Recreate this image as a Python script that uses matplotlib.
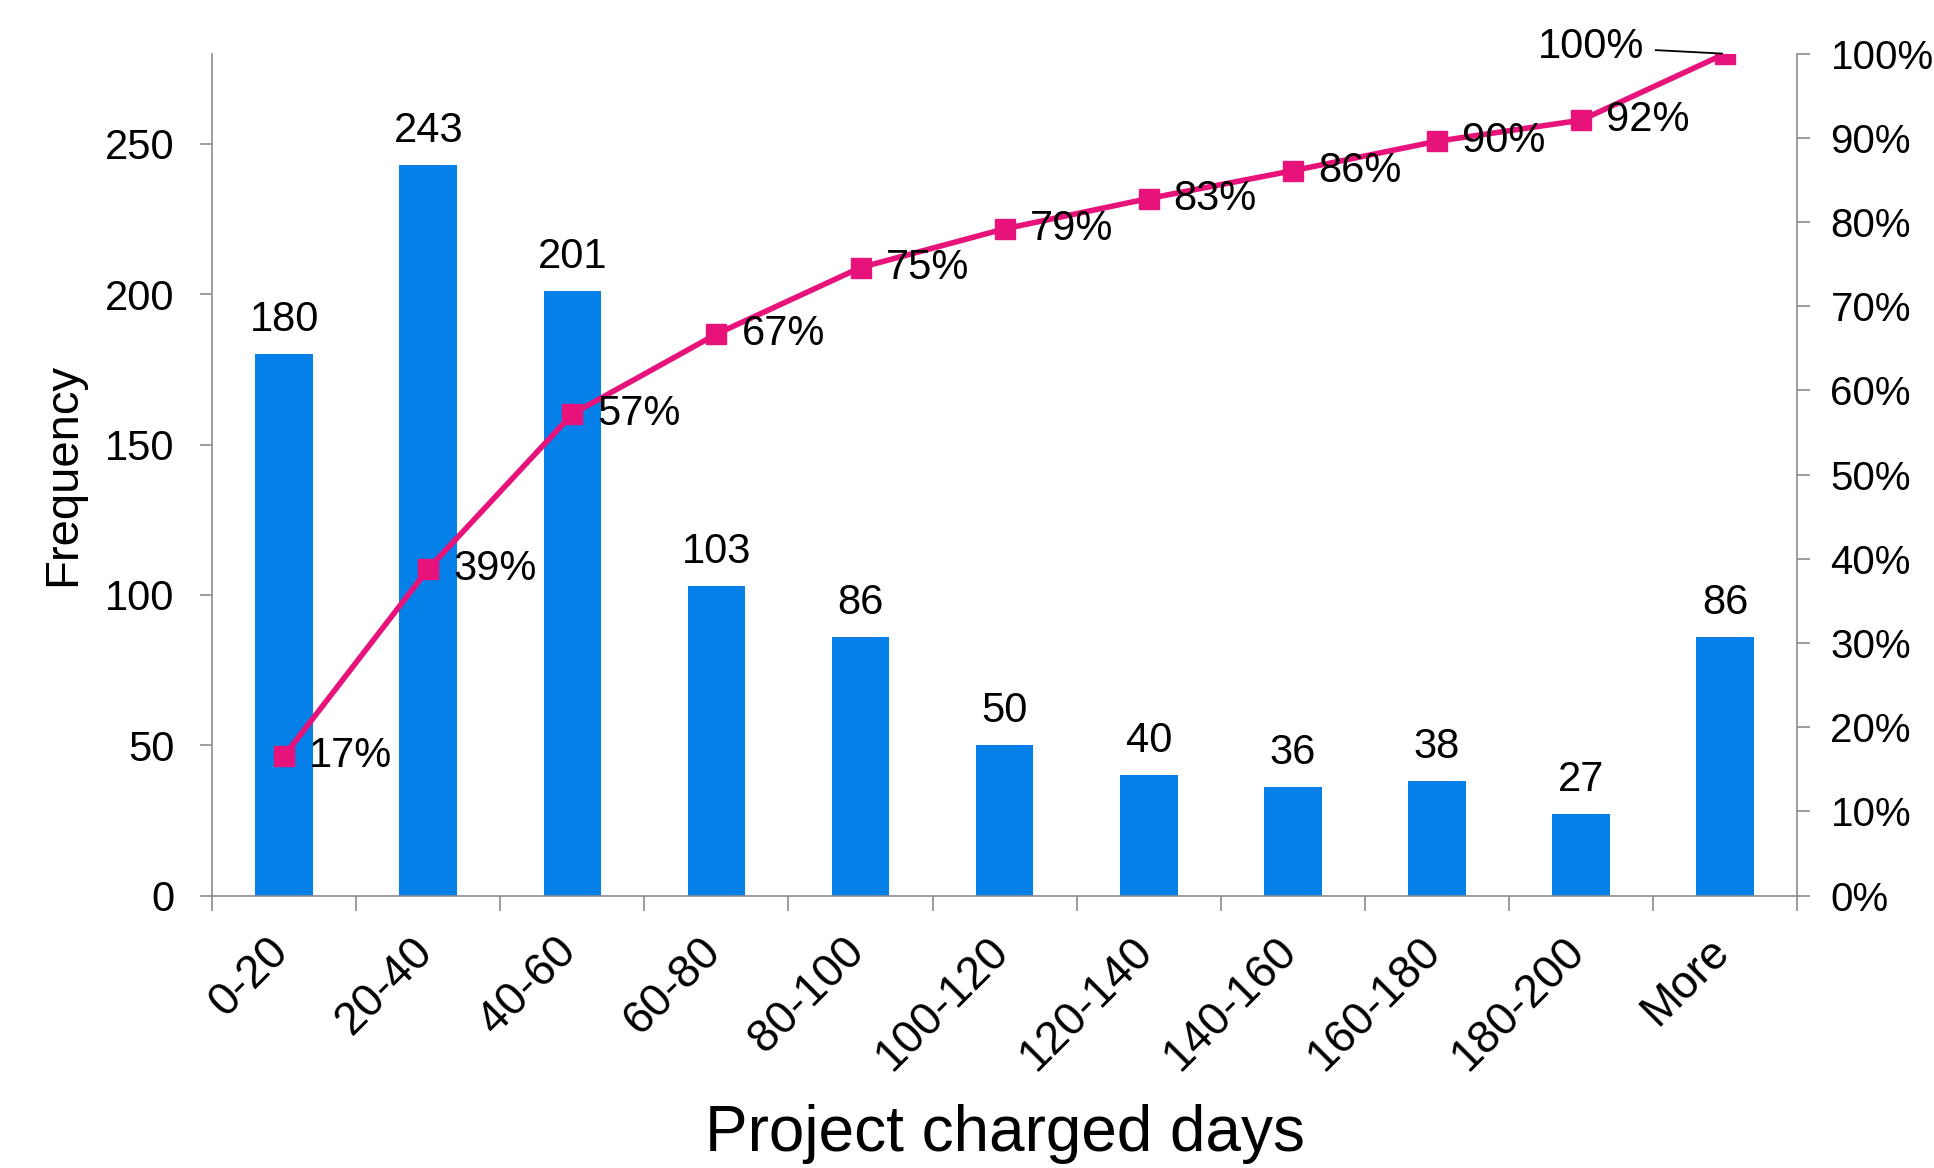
import numpy as np
import matplotlib
matplotlib.use("Agg")
import matplotlib.pyplot as plt
from matplotlib.ticker import FixedLocator, PercentFormatter

plt.rcParams['font.family'] = ['Liberation Sans', 'DejaVu Sans']

bins = ['0-20', '20-40', '40-60', '60-80', '80-100', '100-120',
        '120-140', '140-160', '160-180', '180-200', 'More']
freq = [180, 243, 201, 103, 86, 50, 40, 36, 38, 27, 86]
cum_pct = [0.166, 0.388, 0.572, 0.667, 0.746, 0.792, 0.828, 0.861, 0.896, 0.921, 1.0]

bar_col = '#0580E8'
line_col = '#E8137A'
axis_col = '#8C8C8C'

fig = plt.figure(figsize=(19.34, 11.68), dpi=100)
ax = fig.add_axes([0.1097, 0.2333, 0.8195, 0.7207])
x = np.arange(len(bins))

bars = ax.bar(x, freq, width=0.4, color=bar_col, zorder=2)
ax.bar_label(bars, padding=10, fontsize=30)

ax.set_xlim(-0.5, len(bins) - 0.5)
ax.set_ylim(0, 280)
ax.set_yticks(np.arange(0, 251, 50))

# tick marks between categories, labels (slightly nudged right) under the bars
ax.xaxis.set_major_locator(FixedLocator(np.arange(-0.5, len(bins), 1)))
ax.xaxis.set_minor_locator(FixedLocator(x + 0.09))
ax.set_xticklabels([], minor=False)
ax.set_xticklabels(bins, minor=True, rotation=45, ha='right', fontsize=33)
ax.tick_params(axis='x', which='major', length=11, width=1.2, color=axis_col, direction='out')
ax.tick_params(axis='x', which='minor', length=0, pad=24)
ax.tick_params(axis='y', length=9, width=1.2, color=axis_col, labelsize=30, pad=18)

for s in ['top', 'right']:
    ax.spines[s].set_visible(False)
for s in ['left', 'bottom']:
    ax.spines[s].set_color(axis_col)
    ax.spines[s].set_linewidth(1.2)

ax.set_ylabel('Frequency', fontsize=34, labelpad=14)
ax.set_xlabel('Project charged days', fontsize=46, labelpad=18)

ax2 = ax.twinx()
ax2.set_ylim(0, 1)
ax2.set_yticks(np.arange(0, 1.01, 0.1))
ax2.yaxis.set_major_formatter(PercentFormatter(1.0, decimals=0))
ax2.tick_params(axis='y', length=9, width=1.2, color=axis_col, labelsize=29, pad=15)
for s in ['top', 'left', 'bottom']:
    ax2.spines[s].set_visible(False)
ax2.spines['right'].set_color(axis_col)
ax2.spines['right'].set_linewidth(1.2)

ax2.plot(x, cum_pct, color=line_col, lw=4, marker='s', markersize=14, zorder=3)

for i, v in enumerate(cum_pct):
    lab = f"{v:.0%}"
    if i == len(cum_pct) - 1:
        ax2.annotate(lab, (i, v), xytext=(-58, 5), textcoords='offset points',
                     ha='right', va='center', fontsize=30, annotation_clip=False,
                     arrowprops=dict(arrowstyle='-', color='black', lw=1.3,
                                     shrinkA=6, shrinkB=2))
    else:
        ax2.annotate(lab, (i, v), xytext=(18, 0), textcoords='offset points',
                     ha='left', va='center', fontsize=30)

fig.savefig('out.png', dpi=100)
